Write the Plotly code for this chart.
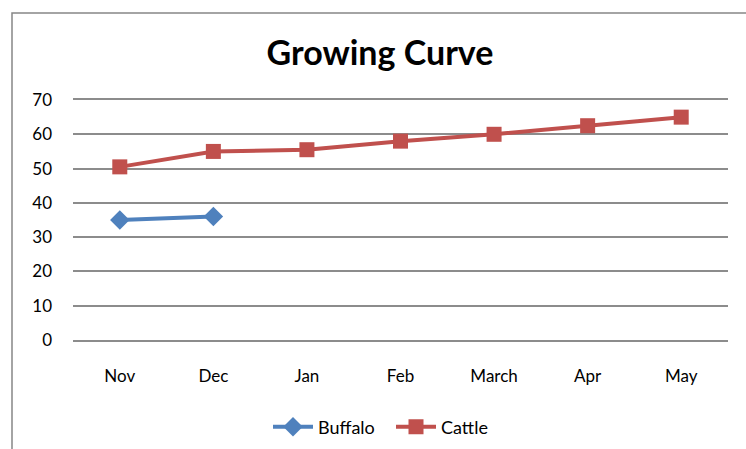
import plotly.graph_objects as go

categories = ["Nov", "Dec", "Jan", "Feb", "March", "Apr", "May"]
buffalo = [35, 36, None, None, None, None, None]
cattle = [50.5, 55, 55.5, 58, 60, 62.5, 65]
y_ticks = [0, 10, 20, 30, 40, 50, 60, 70]

FONT = "Lato, Open Sans, sans-serif"
GRID = "#8C8C8C"

fig = go.Figure()
fig.add_trace(go.Scatter(
    x=categories, y=buffalo, name="Buffalo", mode="lines+markers",
    line=dict(color="#4F81BD", width=4),
    marker=dict(symbol="diamond", size=15, color="#4F81BD"),
))
fig.add_trace(go.Scatter(
    x=categories, y=cattle, name="Cattle", mode="lines+markers",
    line=dict(color="#C0504D", width=4),
    marker=dict(symbol="square", size=15, color="#C0504D"),
))

L, R, T, B = 73, 18, 100, 109
fig.update_layout(
    width=746, height=449,
    margin=dict(l=L, r=R, t=T, b=B, autoexpand=False),
    paper_bgcolor="white", plot_bgcolor="white",
    font=dict(family=FONT, size=17, color="#000000"),
    title=dict(text="<b>Growing Curve</b>", x=380 / 746, xanchor="center",
               y=1 - 53 / 449, yanchor="middle", yref="container",
               font=dict(family=FONT, size=34, color="#000000")),
    xaxis=dict(type="category", range=[-0.5, 6.5], showgrid=False,
               showline=True, mirror=True, linecolor=GRID, linewidth=1.5,
               zeroline=False, ticks="",
               ticklabelstandoff=20, tickfont=dict(size=17)),
    yaxis=dict(range=[0, 70], tickvals=y_ticks, showgrid=True,
               gridcolor=GRID, gridwidth=1.5, zeroline=False,
               showline=False, ticks="", ticklabelstandoff=20,
               tickfont=dict(size=17)),
    legend=dict(orientation="h", x=268 / 746, xanchor="left", xref="container",
                y=1 - 427 / 449, yanchor="middle", yref="container",
                font=dict(size=18), itemwidth=40, tracegroupgap=0,
                entrywidth=68, entrywidthmode="pixels"),
    showlegend=True,
)

fig.add_shape(type="rect", xref="paper", yref="paper",
              xsizemode="pixel", ysizemode="pixel", xanchor=0, yanchor=0,
              x0=12 - L, x1=760 - L, y0=340 - 13, y1=-130,
              line=dict(color="#868686", width=1.5), fillcolor="rgba(0,0,0,0)",
              layer="below")

fig.write_html("out.html")
